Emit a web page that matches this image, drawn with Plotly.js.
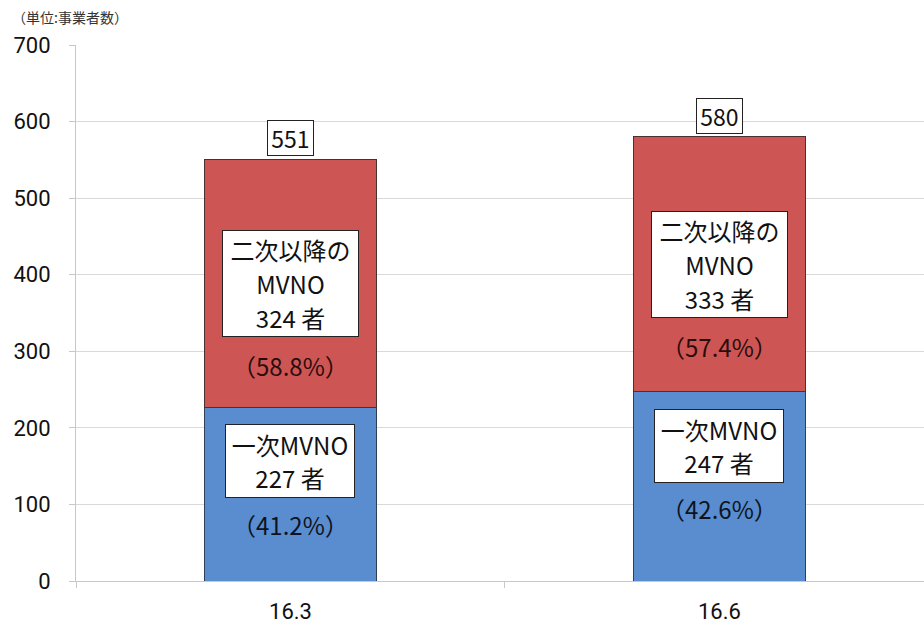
<!DOCTYPE html>
<html><head><meta charset="utf-8">
<script src="https://cdn.plot.ly/plotly-3.0.1.min.js"></script>
<style>html,body{margin:0;padding:0;background:#fff}#chart{width:924px;height:627px}</style>
</head><body><div id="chart"></div>
<script>
const categories = ['16.3', '16.6'];
const primary = [227, 247];
const secondary = [324, 333];
const totals = [551, 580];
const primaryPct = ['41.2%', '42.6%'];
const secondaryPct = ['58.8%', '57.4%'];
const primaryName = '一次MVNO';
const secondaryName = ['二次以降の', 'MVNO'];
const unitLabel = '（単位:事業者数）';
const yTicks = [0, 100, 200, 300, 400, 500, 600, 700];

const jp = '"Noto Sans CJK JP", "Noto Sans", sans-serif';
const num = 'Roboto, "Noto Sans", sans-serif';

const traces = [
  {type: 'bar', x: categories, y: primary, name: '一次MVNO', width: 0.4,
   marker: {color: '#5A8DD0', line: {color: '#2f3f55', width: 1}}, hoverinfo: 'skip'},
  {type: 'bar', x: categories, y: secondary, name: '二次以降のMVNO', width: 0.4,
   marker: {color: '#CD5654', line: {color: '#4a3030', width: 1}}, hoverinfo: 'skip'}
];

const sp = s => '<span style="font-size:24px">' + s + '</span>';

const ann = [];
categories.forEach((c, i) => {
  ann.push({x: i, y: totals[i], xref: 'x', yref: 'y', text: String(totals[i]), showarrow: false,
    yshift: 21, font: {family: jp, size: 23, color: '#111'}, bgcolor: '#fff', bordercolor: '#222',
    borderwidth: 1, borderpad: 1, width: 43, height: 32});
  const midS = primary[i] + secondary[i] / 2;
  ann.push({x: i, y: midS, xref: 'x', yref: 'y',
    text: [secondaryName[0], secondaryName[1], secondary[i] + ' 者'].map(sp).join('<br>'),
    showarrow: false, yshift: 0, width: 133, height: 103,
    font: {family: jp, size: 26, color: '#111'}, bgcolor: '#fff', bordercolor: '#222', borderwidth: 1, borderpad: 1});
  ann.push({x: i, y: midS, xref: 'x', yref: 'y', text: '（' + secondaryPct[i] + '）', showarrow: false,
    yshift: -82, font: {family: jp, size: 24, color: '#2a0c0c'}});
  ann.push({x: i, y: primary[i], xref: 'x', yref: 'y',
    text: [primaryName, primary[i] + ' 者'].map(sp).join('<br>'),
    showarrow: false, yshift: -54, width: 126, height: 70,
    font: {family: jp, size: 26, color: '#111'}, bgcolor: '#fff', bordercolor: '#222', borderwidth: 1, borderpad: 1});
  ann.push({x: i, y: primary[i], xref: 'x', yref: 'y', text: '（' + primaryPct[i] + '）', showarrow: false,
    yshift: -117, font: {family: jp, size: 24, color: '#0d1420'}});
});
ann.push({xref: 'paper', yref: 'paper', x: -66 / 848, y: 1 + (45 - 17) / 536, xanchor: 'left', yanchor: 'middle',
  text: unitLabel, showarrow: false, font: {family: jp, size: 14, color: '#333'}});

const layout = {
  width: 924, height: 627,
  margin: {l: 76, r: 0, t: 45, b: 46},
  barmode: 'stack', showlegend: false,
  paper_bgcolor: '#fff', plot_bgcolor: '#fff',
  xaxis: {type: 'category', range: [-0.5, 1.477], tickson: 'boundaries', ticks: 'outside', ticklen: 6,
    tickcolor: '#c8c8c8', showline: true, linecolor: '#c8c8c8', linewidth: 1, showgrid: false,
    tickfont: {family: num, size: 22, color: '#111'}, ticklabelstandoff: 11, fixedrange: true},
  yaxis: {range: [0, 700], tickvals: yTicks, ticks: 'outside', ticklen: 6, tickcolor: '#c8c8c8',
    showline: true, linecolor: '#c8c8c8', linewidth: 1, showgrid: true, gridcolor: '#d9d9d9', gridwidth: 1,
    zeroline: false, tickfont: {family: num, size: 22, color: '#111'}, ticklabelstandoff: 14, fixedrange: true},
  annotations: ann
};
Plotly.newPlot('chart', traces, layout, {displayModeBar: false, staticPlot: true});
</script></body></html>
